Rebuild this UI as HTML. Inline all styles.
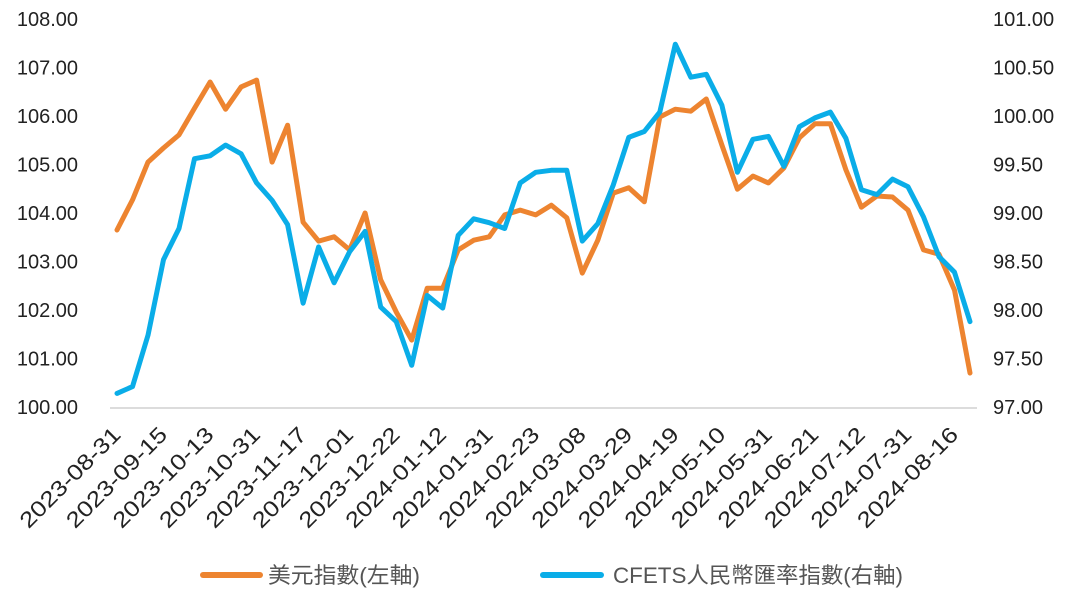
<!DOCTYPE html>
<html><head><meta charset="utf-8"><style>
html,body{margin:0;padding:0;background:#fff;}
svg{display:block;}
</style></head><body>
<svg id="chart" width="1084" height="599" xmlns="http://www.w3.org/2000/svg" font-family="'Liberation Sans','Noto Sans CJK TC',sans-serif">
<g id="axes"></g>
<g id="series"></g>
<g id="legend">
  <line x1="203" y1="575" x2="260" y2="575" stroke="#ED8430" stroke-width="6" stroke-linecap="round"/>
  <text x="268" y="583" font-size="22" fill="#555" textLength="152" lengthAdjust="spacingAndGlyphs">美元指數(左軸)</text>
  <line x1="543" y1="575" x2="601" y2="575" stroke="#0AADE8" stroke-width="6" stroke-linecap="round"/>
  <text x="613" y="583" font-size="22" fill="#555" textLength="290" lengthAdjust="spacingAndGlyphs">CFETS人民幣匯率指數(右軸)</text>
</g>
</svg>
<script>
const tickLabels = ["2023-08-31","2023-09-15","2023-10-13","2023-10-31","2023-11-17","2023-12-01","2023-12-22","2024-01-12","2024-01-31","2024-02-23","2024-03-08","2024-03-29","2024-04-19","2024-05-10","2024-05-31","2024-06-21","2024-07-12","2024-07-31","2024-08-16"];
const usdIndex = [103.65,104.27,105.05,105.34,105.61,106.16,106.70,106.14,106.60,106.74,105.05,105.81,103.81,103.42,103.51,103.24,104.00,102.62,101.96,101.38,102.45,102.45,103.24,103.44,103.51,103.96,104.06,103.96,104.16,103.90,102.76,103.44,104.41,104.52,104.23,105.98,106.14,106.10,106.35,105.40,104.49,104.76,104.62,104.93,105.55,105.84,105.84,104.89,104.12,104.35,104.33,104.06,103.24,103.15,102.41,100.70];
const cfetsIndex = [97.14,97.21,97.74,98.52,98.84,99.56,99.59,99.70,99.61,99.31,99.13,98.88,98.07,98.65,98.28,98.60,98.81,98.03,97.88,97.43,98.15,98.02,98.77,98.94,98.90,98.84,99.31,99.42,99.44,99.44,98.71,98.89,99.29,99.78,99.84,100.04,100.74,100.40,100.43,100.11,99.42,99.76,99.79,99.48,99.89,99.98,100.04,99.77,99.24,99.19,99.35,99.27,98.96,98.55,98.39,97.88];
const leftTicks = [100,101,102,103,104,105,106,107,108];
const rightTicks = [97,97.5,98,98.5,99,99.5,100,100.5,101];
const labelEvery = 3;

const NS = "http://www.w3.org/2000/svg";
const X0 = 117, X1 = 970, Y0 = 407, Y1 = 19;
const n = usdIndex.length;
function xPos(i){ return X0 + (X1 - X0) * i / (n - 1); }
function yLeft(v){ return Y0 - (v - 100) / 8 * (Y0 - Y1); }
function yRight(v){ return Y0 - (v - 97) / 4 * (Y0 - Y1); }
function mk(tag, attrs, parent){ const e = document.createElementNS(NS, tag); for (const k in attrs) e.setAttribute(k, attrs[k]); parent.appendChild(e); return e; }

const axes = document.getElementById('axes');
const baseline = mk('line', {x1:110, y1:408, x2:977, y2:408, stroke:'#c8c8c8', 'stroke-width':1.2}, axes);



leftTicks.forEach(v => {
  const t = mk('text', {x:78, y:yLeft(v)+7, 'text-anchor':'end', 'font-size':20, fill:'#222'}, axes);
  t.textContent = v.toFixed(2);
  
  
});
rightTicks.forEach(v => {
  const t = mk('text', {x:993, y:yRight(v)+7, 'text-anchor':'start', 'font-size':20, fill:'#222'}, axes);
  t.textContent = v.toFixed(2);
  
  
});
tickLabels.forEach((lab, k) => {
  const x = xPos(k * labelEvery) + 5, y = 436;
  const t = mk('text', {x:x, y:y, 'text-anchor':'end', 'font-size':22, fill:'#222', textLength:132, lengthAdjust:'spacingAndGlyphs', transform:`rotate(-45 ${x} ${y})`}, axes);
  t.textContent = lab;
  
  
});

const series = document.getElementById('series');
const usdPts = usdIndex.map((v,i) => xPos(i).toFixed(1) + ',' + yLeft(v).toFixed(1)).join(' ');
const cfPts = cfetsIndex.map((v,i) => xPos(i).toFixed(1) + ',' + yRight(v).toFixed(1)).join(' ');
const lu = mk('polyline', {points:usdPts, fill:'none', stroke:'#ED8430', 'stroke-width':5, 'stroke-linejoin':'round', 'stroke-linecap':'round'}, series);


const lc = mk('polyline', {points:cfPts, fill:'none', stroke:'#0AADE8', 'stroke-width':5, 'stroke-linejoin':'round', 'stroke-linecap':'round'}, series);


</script>
</body></html>
